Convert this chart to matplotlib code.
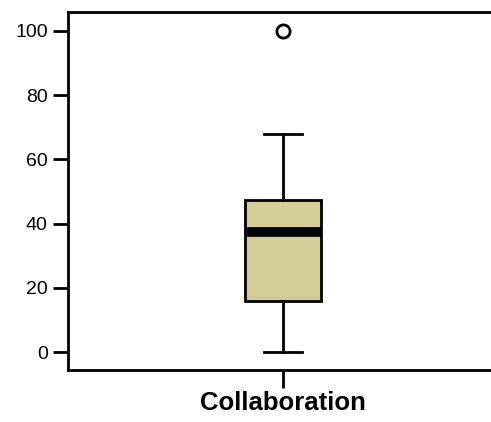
import matplotlib
matplotlib.use("Agg")
import matplotlib.pyplot as plt

plt.rcParams['font.family'] = ['Liberation Sans', 'DejaVu Sans']

category = "Collaboration"
q1 = 15.9
median = 37.5
q3 = 47.4
whisker_low = 0.0
whisker_high = 68.0
outliers = [100.0]
y_ticks = [0, 20, 40, 60, 80, 100]

fig = plt.figure(figsize=(4.91, 4.22), dpi=100)
ax = fig.add_axes([68 / 491, 1 - 370 / 422, 422 / 491, 358 / 422])

lw = 2.0
stats = [{
    "label": category,
    "q1": q1, "med": median, "q3": q3,
    "whislo": whisker_low, "whishi": whisker_high,
    "fliers": outliers,
}]
ax.bxp(stats, positions=[1], widths=0.18, patch_artist=True,
       boxprops=dict(facecolor="#d3ce97", edgecolor="black", linewidth=lw),
       medianprops=dict(color="black", linewidth=7, solid_capstyle="butt"),
       whiskerprops=dict(color="black", linewidth=lw),
       capprops=dict(color="black", linewidth=lw),
       capwidths=0.09,
       flierprops=dict(marker="o", markersize=9.5, markerfacecolor="white",
                       markeredgecolor="black", markeredgewidth=2.0))

ax.set_xlim(0.49, 1.49)
ax.set_ylim(-5.6, 105.9)
ax.set_yticks(y_ticks)
ax.set_xticks([1])
ax.set_xticklabels([category], fontsize=18.5, fontweight="bold")
ax.tick_params(axis="y", length=11, width=lw, labelsize=14, pad=3.5)
ax.tick_params(axis="x", length=13, width=lw, pad=2)
ax.spines["right"].set_visible(False)
for s in ("left", "top", "bottom"):
    ax.spines[s].set_linewidth(lw)

fig.savefig("out.png", dpi=100)
